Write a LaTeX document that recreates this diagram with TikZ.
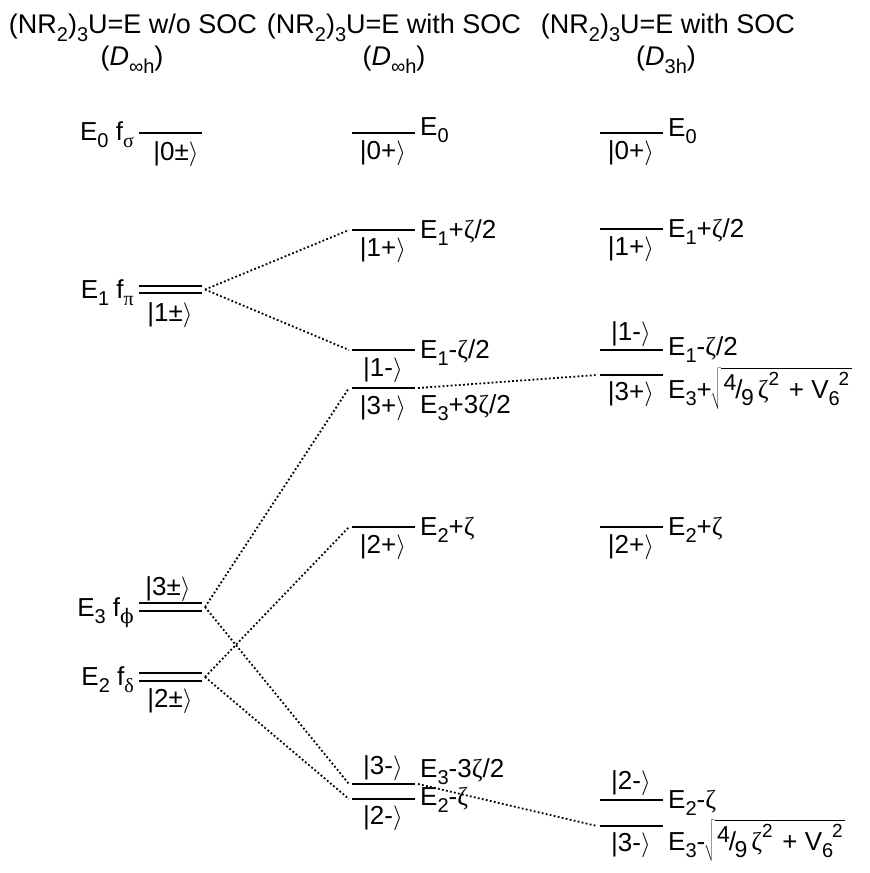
\documentclass[tikz,border=0pt]{standalone}
\usepackage{fontspec}
\setmainfont{Liberation Sans}
\newfontfamily\gk{Liberation Serif}
\newfontfamily\gkd{DejaVu Serif}
\newcommand{\ket}[1]{|#1$\rangle$}
\newcommand{\zt}{{\gk ζ}}
\newcommand{\sbs}[1]{\raisebox{-0.3em}{\fontsize{20}{22}\selectfont #1}}
\newcommand{\sps}[1]{\raisebox{0.5em}{\fontsize{19}{20}\selectfont #1}}
\newcommand{\rootexpr}{\kern-0.05em$\sqrt{\hbox{\rule[-0.34em]{0pt}{1.22em}\kern0.1em\raisebox{0.3em}{\fontsize{23}{24}\selectfont 4}\kern-0.04em/\kern-0.06em\raisebox{-0.28em}{\fontsize{23}{24}\selectfont 9}\kern0.15em\zt\sps{2}\kern0.1em{} + V\sbs{6}\kern-0.05em\sps{2}\kern0.1em}}$}
\begin{document}
\begin{tikzpicture}[x=1pt,y=-1pt,
  lvl/.style={line width=1.8pt},
  conn/.style={line width=1.8pt, dash pattern=on 1.8pt off 2.3pt},
  lab/.style={inner sep=0pt, font=\fontsize{26}{30}\selectfont},
  ttl/.style={inner sep=0pt, font=\fontsize{27}{30}\selectfont, anchor=base}]
\useasboundingbox (0,0) rectangle (870,873);
% titles
\node[ttl] (t1) at (133,33) {(NR\sbs{2})\sbs{3}U=E w/o SOC};
\node[ttl] (t2) at (394,33) {(NR\sbs{2})\sbs{3}U=E with SOC};
\node[ttl] (t3) at (668,33) {(NR\sbs{2})\sbs{3}U=E with SOC};
\node[ttl] (s1) at (132,65) {(\textit{D}\sbs{∞h})};
\node[ttl] (s2) at (394,65) {(\textit{D}\sbs{∞h})};
\node[ttl] (s3) at (666,65) {(\textit{D}\sbs{3h})};
% column 1 levels
\draw[lvl] (139,133) -- (202,133);
\draw[lvl] (139,285.7) -- (202,285.7);
\draw[lvl] (139,293.3) -- (202,293.3);
\draw[lvl] (139,603) -- (202,603);
\draw[lvl] (139,611) -- (202,611);
\draw[lvl] (139,673) -- (202,673);
\draw[lvl] (139,681) -- (202,681);
\coordinate (a1) at (205,289.5);
\coordinate (a3) at (205,607);
\coordinate (a2) at (205,677);
\node[lab,anchor=base east] (la0) at (134,140) {E\sbs{0} f\sbs{\gk σ}};
\node[lab,anchor=base] (ka0) at (176,160) {\ket{0±}};
\node[lab,anchor=base east] (la1) at (134,298) {E\sbs{1} f\sbs{\gk π}};
\node[lab,anchor=base] (ka1) at (170,321) {\ket{1±}};
\node[lab,anchor=base east] (la3) at (134,616) {E\sbs{3} f\sbs{\gkd ϕ}};
\node[lab,anchor=base] (ka3) at (168,595) {\ket{3±}};
\node[lab,anchor=base east] (la2) at (134,685) {E\sbs{2} f\sbs{\gk δ}};
\node[lab,anchor=base] (ka2) at (170,707) {\ket{2±}};
% column 2 levels
\foreach \n/\y in {b0/133,b1p/230,b1m/350,b3p/388,b2p/527,b3m/784,b2m/799}{
  \draw[lvl] (352,\y) -- (415,\y);
  \coordinate (\n l) at (349,\y);
  \coordinate (\n r) at (418,\y);
}
\node[lab,anchor=base] (kb0) at (383,159) {\ket{0+}};
\node[lab,anchor=base west] (lb0) at (420,135) {E\sbs{0}};
\node[lab,anchor=base] (kb1p) at (383,256) {\ket{1+}};
\node[lab,anchor=base west] (lb1p) at (420,238) {E\sbs{1}+\zt/2};
\node[lab,anchor=base] (kb1m) at (383,376) {\ket{1-}};
\node[lab,anchor=base west] (lb1m) at (420,358) {E\sbs{1}-\zt/2};
\node[lab,anchor=base] (kb3p) at (383,414) {\ket{3+}};
\node[lab,anchor=base west] (lb3p) at (420,413) {E\sbs{3}+3\zt/2};
\node[lab,anchor=base] (kb2p) at (383,553) {\ket{2+}};
\node[lab,anchor=base west] (lb2p) at (420,535) {E\sbs{2}+\zt};
\node[lab,anchor=base] (kb3m) at (383,774) {\ket{3-}};
\node[lab,anchor=base west] (lb3m) at (420,777) {E\sbs{3}-3\zt/2};
\node[lab,anchor=base] (kb2m) at (383,824) {\ket{2-}};
\node[lab,anchor=base west] (lb2m) at (420,805) {E\sbs{2}-\zt};
% column 3 levels
\foreach \n/\y in {c0/133,c1p/229,c1m/350,c3p/375,c2p/527,c2m/800,c3m/826}{
  \draw[lvl] (600,\y) -- (663,\y);
  \coordinate (\n l) at (597,\y);
}
\node[lab,anchor=base] (kc0) at (631,159) {\ket{0+}};
\node[lab,anchor=base west] (lc0) at (668,136) {E\sbs{0}};
\node[lab,anchor=base] (kc1p) at (631,255) {\ket{1+}};
\node[lab,anchor=base west] (lc1p) at (668,237) {E\sbs{1}+\zt/2};
\node[lab,anchor=base] (kc1m) at (631,340) {\ket{1-}};
\node[lab,anchor=base west] (lc1m) at (668,355) {E\sbs{1}-\zt/2};
\node[lab,anchor=base] (kc3p) at (631,400) {\ket{3+}};
\node[lab,anchor=base west] (lc3p) at (668,398) {E\sbs{3}+\rootexpr};
\node[lab,anchor=base] (kc2p) at (631,553) {\ket{2+}};
\node[lab,anchor=base west] (lc2p) at (668,535) {E\sbs{2}+\zt};
\node[lab,anchor=base] (kc2m) at (631,789) {\ket{2-}};
\node[lab,anchor=base west] (lc2m) at (668,808) {E\sbs{2}-\zt};
\node[lab,anchor=base] (kc3m) at (631,851) {\ket{3-}};
\node[lab,anchor=base west] (lc3m) at (668,850) {E\sbs{3}-\rootexpr};
% connectors
\draw[conn] (a1) -- (b1pl);
\draw[conn] (a1) -- (b1ml);
\draw[conn] (a3) -- (b3pl);
\draw[conn] (a3) -- (b3ml);
\draw[conn] (a2) -- (b2pl);
\draw[conn] (a2) -- (b2ml);
\draw[conn] (b3pr) -- (c3pl);
\draw[conn] (b3mr) -- (c3ml);
\end{tikzpicture}
\end{document}
